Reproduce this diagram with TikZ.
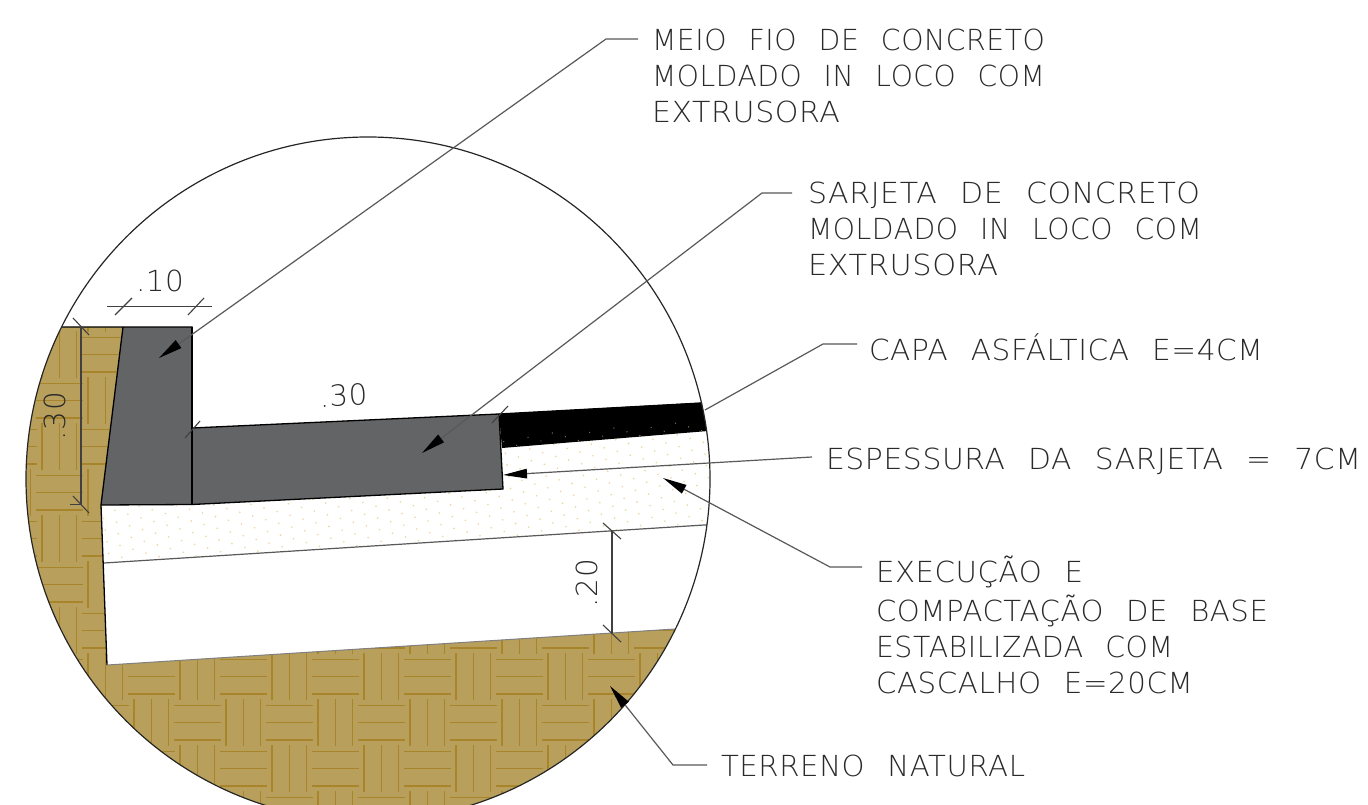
\documentclass[tikz,border=0pt]{standalone}
\usepackage{fontspec}
\usepackage{graphicx}
\usetikzlibrary{arrows.meta}
\newfontfamily\cadfont[WordSpace=2.3,LetterSpace=2]{DejaVu Sans ExtraLight}
\definecolor{earth}{HTML}{B89F5B}
\definecolor{earthline}{HTML}{A8842A}
\definecolor{concrete}{HTML}{636466}
\definecolor{speck}{HTML}{EFD5A0}
\definecolor{inktext}{HTML}{2A2A2A}
\tikzset{
  leader/.style={draw=black!65,line width=1.2pt},
  leadarrow/.style={leader,-{Triangle[length=24pt,width=9.5pt,color=black]},shorten >=0pt},
  dimline/.style={draw=black!75,line width=1.1pt},
  edgeline/.style={draw=black,line width=1.3pt},
  lbl/.style={anchor=base west,inner sep=0pt,outer sep=0pt,text=inktext,font=\fontsize{29}{29}\selectfont\cadfont},
}
\newcommand{\fitw}[2]{\resizebox{#1pt}{\height}{#2}}
\begin{document}
\begin{tikzpicture}[x=1pt,y=-1pt]
\useasboundingbox (0,0) rectangle (1368,805);
\fill[white] (0,0) rectangle (1368,805);
\begin{scope}
\clip (368,479) circle (342);
% ground
\begin{scope}
\clip (0,327) -- (123,327) -- (101,505) -- (107,665) -- (690,628) -- (690,810) -- (0,810) -- cycle;
\fill[earth] (0,320) rectangle (720,810);
\foreach \i in {-4,...,13}{\foreach \j in {-9,...,3}{
  \pgfmathsetmacro{\cx}{151.3+46*\i}
  \pgfmathsetmacro{\cy}{676.7+46*\j}
  \pgfmathtruncatemacro{\parity}{mod(\i+\j+100,2)}
  \ifnum\parity=0
    \foreach \o in {-17.3,0,17.3}{\draw[earthline,line width=1.1pt] (\cx-23.5,\cy+\o) -- (\cx+23.5,\cy+\o);}
  \else
    \foreach \o in {-17.3,0,17.3}{\draw[earthline,line width=1.1pt] (\cx+\o,\cy-23.5) -- (\cx+\o,\cy+23.5);}
  \fi
}}
\end{scope}
% speckled base
\begin{scope}
\clip (101,505) -- (192,504) -- (503,489) -- (500,435) -- (712,417) -- (712,525) -- (104,563) -- cycle;
\foreach \a in {-34,...,16}{\foreach \b in {-24,...,22}{
  \fill[speck] (528+13*\a+11.3*\b,437.3+3.7*\a-8*\b) circle (0.9);
}}
\end{scope}
% asphalt
\begin{scope}
\fill[black] (499,414) -- (720,401.5) -- (720,430) -- (502,448) -- cycle;
\clip (499,414) -- (720,401.5) -- (720,430) -- (502,448) -- cycle;
\foreach \a in {-34,...,16}{\foreach \b in {-24,...,22}{
  \pgfmathsetmacro{\px}{528+13*\a+11.3*\b}
  \pgfmathsetmacro{\py}{437.3+3.7*\a-8*\b}
  \pgfmathparse{(\py-(448-0.0874*(\px-502)))>-11 ? 1 : 0}
  \ifnum\pgfmathresult=1
    \fill[speck!55!black] (\px,\py) circle (0.7);
  \fi
}}
\end{scope}
\draw[draw=black!65,line width=1.2pt] (104,563) -- (720,524);
\end{scope}
% concrete pieces
\coordinate (ca) at (123,327); \coordinate (cb) at (192,327);
\coordinate (cc) at (192,504.5); \coordinate (cd) at (101,505);
\coordinate (ga) at (192,428); \coordinate (gb) at (499,414);
\coordinate (gc) at (503,489);
\fill[concrete] (ca) -- (cb) -- (cc) -- (cd) -- cycle;
\fill[concrete] (ga) -- (gb) -- (gc) -- (cc) -- cycle;
\draw[edgeline] (62,327) -- (cb) -- (ga) -- (gb) -- (gc) -- (cc) -- (cd);
\draw[edgeline] (ca) -- (cd) -- (107,665);
\draw[edgeline] (cb) -- (cc);
\draw[draw=black!50,line width=1pt] (107,665) -- (675,629);
\draw[edgeline] (gb) -- (702,403);
% circle
\draw[draw=black!85,line width=1.2pt] (368,479) circle (342);
% dimensions
\draw[dimline] (107,306.5) -- (212,306.5);
\draw[dimline] (115,315) -- (132,298);
\draw[dimline] (188,315) -- (204,298);
\node[lbl] (t10) at (136,291) {\fitw{48}{.10}};
\coordinate (d2a) at (81,327); \coordinate (d2b) at (81,505);
\draw[dimline] (d2a) -- (d2b);
\draw[dimline] (73,318) -- (89,335);
\draw[dimline] (73,496) -- (89,513);
\draw[dimline] (70,504.5) -- (81,504.5);
\node[lbl,rotate=90] (t30v) at (65,440) {\fitw{48}{.30}};
\draw[dimline] (185,438) -- (200,421);
\draw[dimline] (492,423) -- (508,406);
\node[lbl,rotate=2.6] (t30h) at (320,407) {\fitw{48}{.30}};
\coordinate (d3a) at (612,531); \coordinate (d3b) at (612,633);
\draw[dimline] (d3a) -- (d3b);
\draw[dimline] (603,523) -- (621,539);
\draw[dimline] (603,625) -- (621,642);
\node[lbl,rotate=90] (t20) at (597,607) {\fitw{48}{.20}};
% labels
\node[lbl] (m1) at (652,51) {\fitw{393}{MEIO FIO DE CONCRETO}};
\node[lbl] (m2) at (652,87) {\fitw{393}{MOLDADO IN LOCO COM}};
\node[lbl] (m3) at (652,123) {\fitw{188}{EXTRUSORA}};
\node[lbl] (s1) at (808,204) {\fitw{392}{SARJETA DE CONCRETO}};
\node[lbl] (s2) at (808,240) {\fitw{394}{MOLDADO IN LOCO COM}};
\node[lbl] (s3) at (808,276) {\fitw{190}{EXTRUSORA}};
\node[lbl] (c1) at (869,360) {\fitw{394}{CAPA ASFÁLTICA E=4CM}};
\node[lbl] (e1) at (826,469) {\fitw{535}{ESPESSURA DA SARJETA = 7CM}};
\node[lbl] (x1) at (876,582) {\fitw{207}{EXECUÇÃO E}};
\node[lbl] (x2) at (876,621) {\fitw{392}{COMPACTAÇÃO DE BASE}};
\node[lbl] (x3) at (876,657) {\fitw{297}{ESTABILIZADA COM}};
\node[lbl] (x4) at (876,693) {\fitw{317}{CASCALHO E=20CM}};
\node[lbl] (n1) at (721,776) {\fitw{304}{TERRENO NATURAL}};
% leaders
\coordinate (l1a) at (638,39); \coordinate (l1b) at (606,39); \coordinate (l1c) at (159,358);
\draw[leadarrow] (l1a) -- (l1b) -- (l1c);
\coordinate (l2a) at (792,193); \coordinate (l2b) at (762,193); \coordinate (l2c) at (422,453);
\draw[leadarrow] (l2a) -- (l2b) -- (l2c);
\coordinate (l3a) at (857,344); \coordinate (l3b) at (823,344); \coordinate (l3c) at (705,410);
\draw[leader] (l3a) -- (l3b) -- (l3c);
\coordinate (l4a) at (812,457); \coordinate (l4c) at (503,475);
\draw[leadarrow] (l4a) -- (l4c);
\coordinate (l5a) at (862,567); \coordinate (l5b) at (830,567); \coordinate (l5c) at (663,478);
\draw[leadarrow] (l5a) -- (l5b) -- (l5c);
\coordinate (l6a) at (707,765); \coordinate (l6b) at (673,765); \coordinate (l6c) at (610,686);
\draw[leadarrow] (l6a) -- (l6b) -- (l6c);
\end{tikzpicture}
\end{document}
